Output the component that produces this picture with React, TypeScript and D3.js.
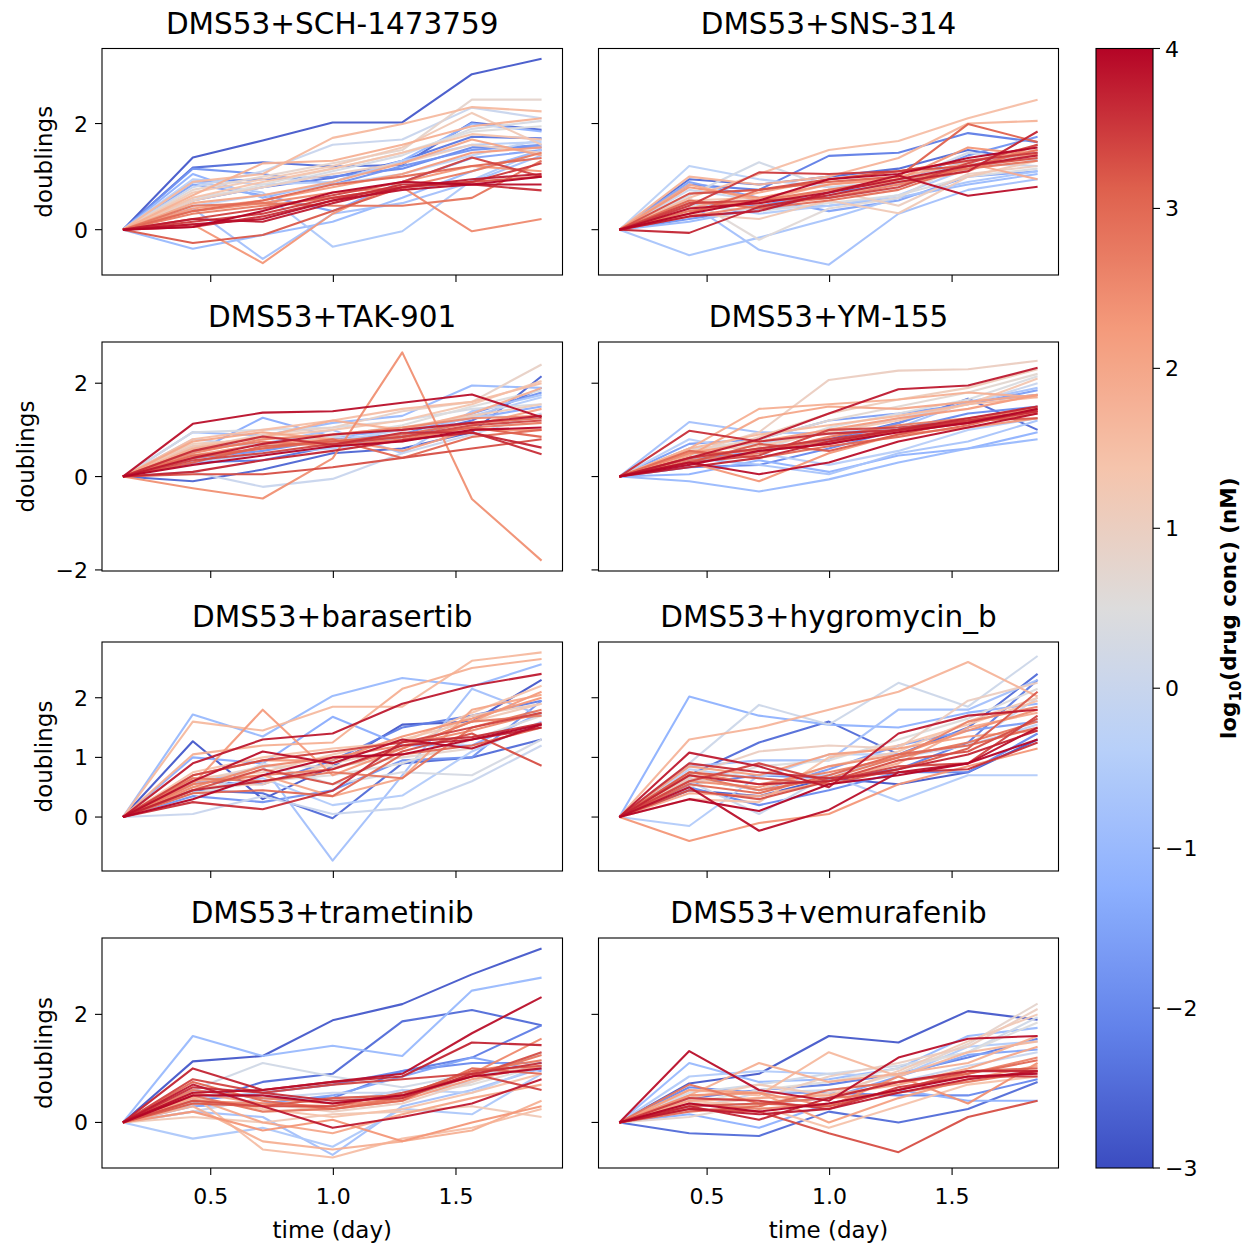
import React from "react";
import * as d3 from "d3";

// time points (day)
const TIMES = [0.142, 0.427, 0.712, 0.997, 1.281, 1.565, 1.849];
const X_TICKS = [0.5, 1.0, 1.5];
const ROW_Y_TICKS = [[0, 2], [-2, 0, 2], [0, 1, 2], [0, 2]];
const CBAR_TICKS = [-3, -2, -1, 0, 1, 2, 3, 4];
const CONC_DOMAIN = [-3, 4];
const COOLWARM = ["#3b4cc0", "#6282ea", "#8db0fe", "#b8d0f9", "#dddcdc", "#f5c4ac", "#f49a7b", "#de604d", "#b40426"];
const TITLES = [
  "DMS53+SCH-1473759", "DMS53+SNS-314",
  "DMS53+TAK-901", "DMS53+YM-155",
  "DMS53+barasertib", "DMS53+hygromycin_b",
  "DMS53+trametinib", "DMS53+vemurafenib",
];

type Series = [number, number[]]; // [log10 conc, doublings per time]

const SCH: Series[] = [
  [-2.8, [0, 1.36, 1.68, 2.02, 2.02, 2.93, 3.22]],
  [-2.5, [0, 1.17, 1.27, 1.19, 1.22, 2.02, 1.88]],
  [-2.3, [0, 0.55, 0.8, 0.98, 1.3, 1.75, 1.72]],
  [-2.0, [0, 0.9, 0.95, 1.0, 1.15, 1.55, 1.55]],
  [-1.8, [0, 1.15, 1.05, 0.85, 1.2, 1.5, 1.6]],
  [-1.5, [0, 0.85, 0.65, 0.35, 0.9, 1.35, 1.5]],
  [-1.2, [0, 1.05, 0.6, 0.9, 1.3, 2.0, 1.85]],
  [-1.0, [0, -0.36, -0.1, 0.15, 0.6, 1.1, 1.5]],
  [-0.8, [0, 0.4, -0.55, 0.3, 0.5, 0.9, 1.4]],
  [-0.6, [0, 0.9, 0.7, -0.32, -0.03, 0.93, 1.5]],
  [-0.4, [0, 0.95, 0.85, 0.9, 1.3, 1.6, 1.65]],
  [-0.2, [0, 0.45, 0.65, 0.85, 1.05, 1.4, 1.7]],
  [0.0, [0, 0.8, 1.1, 1.6, 1.7, 2.3, 2.1]],
  [0.3, [0, 0.6, 0.8, 1.1, 1.4, 1.9, 2.05]],
  [0.5, [0, 0.55, 0.85, 1.15, 1.45, 1.85, 1.95]],
  [0.8, [0, 0.75, 1.0, 1.25, 1.5, 2.45, 2.45]],
  [1.0, [0, 0.55, 0.8, 1.05, 1.25, 1.6, 1.45]],
  [1.2, [0, 0.7, 0.95, 1.2, 1.55, 2.2, 1.6]],
  [1.4, [0, 0.6, 0.9, 1.15, 1.45, 1.8, 1.7]],
  [1.6, [0, 0.9, 1.05, 1.73, 1.99, 2.31, 2.23]],
  [1.8, [0, 0.65, 1.25, 1.3, 1.6, 1.95, 2.1]],
  [2.0, [0, 0.5, 0.65, 0.9, 1.25, 1.7, 1.4]],
  [2.2, [0, 0.4, 0.55, 0.8, 1.05, 1.45, 1.55]],
  [2.3, [0, 0.1, -0.63, 0.3, 0.9, 1.2, 1.1]],
  [2.5, [0, 0.35, 0.5, 0.7, 0.8, -0.03, 0.2]],
  [2.7, [0, 0.3, 0.45, 0.6, 0.8, 1.1, 1.45]],
  [2.8, [0, 0.45, 0.5, 0.45, 0.45, 0.6, 1.3]],
  [3.0, [0, 0.35, 0.55, 0.85, 1.0, 1.2, 1.35]],
  [3.2, [0, -0.25, -0.1, 0.35, 0.8, 0.9, 1.0]],
  [3.4, [0, 0.2, 0.4, 0.65, 0.9, 1.36, 1.0]],
  [3.5, [0, 0.15, 0.3, 0.6, 0.8, 0.9, 1.25]],
  [3.6, [0, 0.05, 0.25, 0.55, 0.85, 0.85, 0.74]],
  [3.8, [0, 0.2, 0.15, 0.5, 0.8, 0.95, 1.05]],
  [3.9, [0, 0.1, 0.2, 0.55, 0.75, 0.85, 0.85]],
  [4.0, [0, 0.05, 0.35, 0.7, 0.9, 0.85, 1.0]],
];

const SNS: Series[] = [
  [-2.5, [0, 0.95, 0.85, 1.0, 1.15, 1.5, 1.3]],
  [-2.2, [0, 0.85, 0.75, 1.39, 1.45, 1.82, 1.65]],
  [-2.0, [0, 0.5, 0.45, 0.7, 0.85, 1.3, 1.45]],
  [-1.8, [0, 0.2, 0.4, 0.65, 0.9, 1.4, 1.75]],
  [-1.5, [0, 0.9, 0.6, 0.35, 0.55, 1.0, 1.1]],
  [-1.0, [0, 0.15, 0.4, 0.45, 0.6, 0.85, 1.05]],
  [-0.8, [0, 0.5, -0.38, -0.66, 0.3, 0.75, 0.95]],
  [-0.7, [0, -0.48, -0.15, 0.2, 0.6, 0.9, 1.1]],
  [-0.5, [0, 0.5, 0.3, 0.45, 0.65, 1.15, 1.6]],
  [-0.3, [0, 1.2, 0.95, 0.8, 0.9, 1.3, 1.4]],
  [0.0, [0, 0.75, 0.55, 0.6, 0.8, 1.25, 1.2]],
  [0.2, [0, 0.65, 1.27, 0.8, 0.9, 1.45, 1.3]],
  [0.4, [0, 0.45, 0.35, 0.5, 0.65, 1.0, 1.15]],
  [0.6, [0, 0.6, -0.19, 0.4, 0.6, 1.3, 1.5]],
  [1.0, [0, 0.35, 0.5, 0.75, 0.45, 1.05, 1.2]],
  [1.2, [0, 0.3, 0.2, 0.55, 0.31, 1.0, 1.3]],
  [1.3, [0, 0.55, 0.6, 0.65, 0.85, 1.2, 1.35]],
  [1.5, [0, 0.6, 1.05, 1.5, 1.67, 2.1, 2.45]],
  [1.7, [0, 1.0, 0.85, 1.0, 1.35, 2.0, 2.05]],
  [1.9, [0, 0.85, 0.55, 0.85, 1.0, 1.25, 0.95]],
  [2.0, [0, 0.4, 0.7, 0.95, 1.1, 1.3, 1.5]],
  [2.2, [0, 0.5, 0.5, 0.75, 0.9, 1.15, 1.45]],
  [2.3, [0, 0.8, 0.6, 0.85, 0.95, 1.55, 1.4]],
  [2.6, [0, 0.25, 0.45, 0.6, 0.85, 1.1, 1.6]],
  [2.8, [0, 0.35, 0.55, 0.75, 0.95, 1.15, 1.3]],
  [2.9, [0, 0.55, 0.4, 0.55, 0.75, 1.2, 1.5]],
  [3.1, [0, 0.3, 0.75, 0.9, 1.0, 1.99, 1.65]],
  [3.3, [0, 0.68, 0.75, 0.95, 1.1, 1.2, 1.35]],
  [3.4, [0, 0.5, 0.55, 0.6, 0.8, 1.25, 1.6]],
  [3.5, [0, 0.45, 1.08, 1.05, 1.1, 1.3, 1.45]],
  [3.7, [0, -0.06, 0.43, 0.65, 0.9, 1.1, 1.85]],
  [3.8, [0, 0.25, 0.35, 0.7, 0.95, 1.2, 1.4]],
  [3.9, [0, 0.4, 0.5, 0.7, 1.02, 0.64, 0.81]],
  [4.0, [0, 0.3, 0.55, 0.95, 1.05, 1.35, 1.55]],
];

const TAK: Series[] = [
  [-2.6, [0, -0.1, 0.15, 0.5, 0.6, 0.95, 2.15]],
  [-2.3, [0, 0.3, 0.35, 0.65, 0.85, 1.2, 1.9]],
  [-1.8, [0, 0.4, 0.55, 0.8, 0.9, 1.35, 1.8]],
  [-1.3, [0, 0.5, 1.26, 0.85, 1.0, 1.25, 1.5]],
  [-1.0, [0, 0.95, 0.88, 1.15, 1.3, 1.95, 1.9]],
  [-0.7, [0, 0.65, 0.7, 1.0, 0.5, 1.4, 1.75]],
  [-0.5, [0, 0.3, 0.5, 0.6, 0.85, 1.3, 1.7]],
  [-0.2, [0, 0.8, 0.65, 0.75, 1.0, 1.3, 1.25]],
  [0.0, [0, 0.1, -0.22, -0.05, 0.5, 0.9, 1.35]],
  [0.3, [0, 0.95, 1.0, 1.05, 1.2, 1.45, 1.55]],
  [0.5, [0, 0.45, 0.7, 0.85, 1.1, 1.5, 1.85]],
  [0.9, [0, 0.6, 0.9, 1.05, 1.4, 1.6, 2.4]],
  [1.1, [0, 0.7, 0.8, 0.9, 1.05, 1.3, 1.55]],
  [1.3, [0, 0.65, 0.85, 1.0, 1.2, 1.55, 2.05]],
  [1.5, [0, 0.8, 1.0, 1.2, 1.45, 1.6, 2.0]],
  [1.8, [0, 0.6, 0.85, 1.2, 1.0, 1.35, 1.9]],
  [2.0, [0, 0.75, 0.95, 0.8, 0.75, 1.1, 1.45]],
  [2.2, [0, 0.45, 0.7, 0.8, 0.55, 1.0, 1.0]],
  [2.4, [0, -0.25, -0.47, 0.39, 2.66, -0.48, -1.8]],
  [2.5, [0, 0.5, 0.8, 0.9, 1.05, 1.25, 1.3]],
  [2.7, [0, 0.55, 0.75, 0.65, 0.8, 1.05, 1.15]],
  [2.9, [0, 0.45, 0.6, 0.75, 0.9, 1.15, 1.25]],
  [3.0, [0, 0.4, 0.6, 0.8, 0.4, 0.85, 1.0]],
  [3.1, [0, 0.3, 0.65, 0.75, 0.85, 1.05, 0.85]],
  [3.3, [0, 0.05, 0.05, 0.2, 0.4, 0.6, 0.8]],
  [3.4, [0, 0.35, 0.5, 0.7, 0.85, 1.1, 1.2]],
  [3.6, [0, 0.55, 0.86, 0.68, 0.94, 0.95, 0.48]],
  [3.7, [0, 0.1, 0.35, 0.55, 0.78, 0.94, 0.62]],
  [3.8, [0, 0.4, 0.7, 0.9, 1.0, 1.15, 1.3]],
  [3.9, [0, 1.13, 1.37, 1.4, 1.58, 1.76, 1.27]],
  [4.0, [0, 0.25, 0.45, 0.65, 0.75, 1.0, 1.05]],
];

const YM: Series[] = [
  [-2.5, [0, 0.35, 0.55, 0.8, 1.15, 1.67, 1.0]],
  [-2.0, [0, 0.2, 0.25, 0.6, 1.0, 1.35, 1.5]],
  [-1.8, [0, 0.3, 0.6, 0.75, 1.15, 1.6, 1.75]],
  [-1.6, [0, 0.7, 0.8, 1.2, 1.35, 1.55, 1.85]],
  [-1.2, [0, 0.05, 0.35, 0.1, 0.45, 0.6, 0.95]],
  [-1.0, [0, -0.1, -0.32, -0.06, 0.3, 0.6, 0.8]],
  [-0.8, [0, 1.17, 0.95, 0.92, 1.05, 1.6, 1.9]],
  [-0.7, [0, 0.4, 0.25, 0.05, 0.5, 0.75, 1.2]],
  [-0.4, [0, 0.8, 0.5, 0.25, 0.55, 1.0, 1.25]],
  [0.0, [0, 0.6, 0.7, 0.95, 1.25, 1.55, 2.0]],
  [0.4, [0, 0.45, 0.55, 1.05, 1.35, 1.65, 2.15]],
  [0.7, [0, 0.55, 0.8, 1.2, 1.5, 1.8, 2.2]],
  [1.0, [0, 0.5, 0.95, 2.07, 2.27, 2.3, 2.48]],
  [1.1, [0, 0.4, 0.85, 1.35, 1.65, 1.9, 2.3]],
  [1.3, [0, 0.55, 0.65, 0.95, 1.2, 1.55, 2.1]],
  [1.6, [0, 0.6, 0.9, 1.1, 1.3, 1.55, 1.7]],
  [1.8, [0, 0.6, 1.45, 1.55, 1.65, 1.8, 1.7]],
  [2.0, [0, 0.45, 1.25, 1.5, 1.45, 1.6, 1.75]],
  [2.2, [0, 0.5, 0.75, 1.0, 1.25, 1.45, 1.75]],
  [2.3, [0, 0.3, -0.1, 0.5, 0.9, 1.05, 1.25]],
  [2.5, [0, 0.5, 0.55, 0.7, 1.0, 1.2, 1.5]],
  [2.7, [0, 0.35, 0.5, 0.85, 1.1, 1.25, 1.45]],
  [2.8, [0, 0.4, 0.6, 0.75, 0.95, 1.15, 1.35]],
  [3.0, [0, 0.55, 0.4, 0.65, 0.85, 1.1, 1.45]],
  [3.2, [0, 0.3, 0.7, 0.55, 0.9, 1.2, 1.25]],
  [3.4, [0, 0.3, 0.45, 1.0, 1.05, 1.2, 1.4]],
  [3.5, [0, 0.4, 0.6, 0.8, 1.0, 1.2, 1.4]],
  [3.6, [0, 0.98, 0.75, 0.92, 1.0, 1.15, 1.4]],
  [3.7, [0, 0.2, 0.4, 0.75, 1.0, 1.25, 1.5]],
  [3.8, [0, 0.4, 0.8, 1.35, 1.87, 1.95, 2.33]],
  [3.9, [0, 0.3, 0.05, 0.3, 0.75, 1.05, 1.35]],
  [4.0, [0, 0.25, 0.55, 0.7, 0.95, 1.15, 1.45]],
];

const BARA: Series[] = [
  [-2.8, [0, 1.27, 0.3, 0.85, 1.55, 1.6, 2.3]],
  [-2.5, [0, 0.45, 0.4, -0.02, 0.9, 1.0, 1.3]],
  [-2.2, [0, 0.6, 0.55, 0.95, 1.5, 1.7, 1.95]],
  [-1.8, [0, 0.35, 0.25, 0.45, 0.95, 1.0, 1.95]],
  [-1.3, [0, 1.0, 0.9, 1.68, 1.2, 1.2, 1.75]],
  [-1.0, [0, 1.72, 1.35, 2.03, 2.33, 2.19, 2.56]],
  [-0.8, [0, 0.55, 0.85, -0.73, 0.7, 2.15, 1.7]],
  [-0.5, [0, 0.45, 0.65, 0.2, 0.36, 1.1, 1.6]],
  [0.0, [0, 0.05, 0.35, 0.05, 0.15, 0.6, 1.2]],
  [0.3, [0, 0.3, 0.9, 0.55, 0.75, 0.7, 1.3]],
  [0.5, [0, 0.4, 0.6, 0.7, 0.9, 1.3, 1.7]],
  [0.8, [0, 0.6, 0.85, 0.85, 1.0, 1.15, 1.55]],
  [1.1, [0, 0.5, 0.55, 0.9, 1.15, 1.7, 1.9]],
  [1.2, [0, 0.65, 0.75, 1.05, 1.3, 1.6, 1.9]],
  [1.4, [0, 0.75, 1.0, 1.15, 1.25, 1.75, 2.2]],
  [1.6, [0, 1.6, 1.45, 1.85, 1.85, 2.62, 2.76]],
  [1.8, [0, 1.05, 1.2, 1.25, 2.15, 2.5, 2.65]],
  [2.0, [0, 0.6, 0.7, 0.35, 0.65, 1.8, 2.05]],
  [2.2, [0, 0.55, 1.8, 0.7, 1.15, 1.6, 2.1]],
  [2.3, [0, 0.7, 0.95, 0.95, 1.35, 1.65, 2.0]],
  [2.5, [0, 0.5, 0.85, 1.0, 1.2, 1.45, 1.75]],
  [2.7, [0, 0.55, 0.7, 0.8, 1.15, 1.6, 1.7]],
  [2.8, [0, 0.65, 0.6, 0.75, 0.65, 1.5, 1.8]],
  [3.0, [0, 0.4, 0.45, 0.35, 1.05, 1.2, 1.5]],
  [3.3, [0, 0.45, 0.8, 0.55, 1.1, 1.4, 0.86]],
  [3.4, [0, 0.7, 0.95, 1.1, 1.25, 1.5, 1.75]],
  [3.6, [0, 0.25, 0.13, 0.44, 1.26, 1.34, 1.57]],
  [3.7, [0, 0.45, 0.6, 0.8, 1.2, 1.3, 1.5]],
  [3.8, [0, 0.9, 1.3, 1.4, 1.9, 2.2, 2.4]],
  [3.9, [0, 0.6, 1.1, 0.9, 1.3, 1.15, 1.55]],
  [4.0, [0, 0.3, 0.7, 1.0, 1.05, 1.3, 1.55]],
];

const HYG: Series[] = [
  [-2.8, [0, 0.45, 0.35, 0.65, 0.55, 0.75, 1.3]],
  [-2.5, [0, 0.7, 1.25, 1.6, 1.05, 1.5, 2.4]],
  [-2.2, [0, 0.55, 0.7, 0.65, 0.8, 1.25, 2.3]],
  [-2.0, [0, 0.5, 0.2, 0.45, 0.75, 0.75, 1.4]],
  [-1.6, [0, 0.65, 0.45, 0.8, 1.2, 1.45, 1.6]],
  [-1.2, [0, 2.02, 1.7, 1.55, 1.5, 1.75, 1.9]],
  [-0.8, [0, 0.85, 0.95, 0.95, 1.8, 1.8, 2.3]],
  [-0.5, [0, -0.15, 0.7, 0.7, 0.27, 0.7, 0.7]],
  [-0.3, [0, 0.8, 0.65, 1.05, 1.05, 1.2, 1.55]],
  [0.0, [0, 0.6, 0.05, 0.7, 1.0, 1.2, 2.0]],
  [0.1, [0, 0.9, 1.88, 1.55, 2.25, 1.85, 2.7]],
  [0.5, [0, 0.5, 0.85, 0.95, 1.3, 1.65, 2.15]],
  [1.0, [0, 0.7, 1.1, 1.2, 1.15, 1.95, 2.25]],
  [1.2, [0, 0.65, 0.45, 0.85, 1.1, 1.6, 2.0]],
  [1.4, [0, 0.3, 0.25, 1.0, 1.2, 1.55, 1.95]],
  [1.7, [0, 1.3, 1.5, 1.8, 2.1, 2.6, 2.02]],
  [1.9, [0, 0.4, 0.35, 0.6, 0.9, 1.5, 1.75]],
  [2.1, [0, 0.85, 0.7, 1.05, 1.15, 1.35, 1.45]],
  [2.3, [0, -0.4, -0.1, 0.05, 0.55, 0.85, 1.15]],
  [2.4, [0, 0.6, 0.5, 0.85, 1.05, 1.45, 1.8]],
  [2.6, [0, 0.75, 0.55, 0.75, 1.0, 1.6, 1.85]],
  [2.8, [0, 0.7, 0.45, 0.65, 1.0, 1.25, 1.6]],
  [3.0, [0, 0.55, 0.4, 0.7, 1.05, 1.2, 1.5]],
  [3.2, [0, 0.75, 0.65, 0.55, 0.8, 1.15, 2.1]],
  [3.3, [0, 0.45, 0.3, 0.6, 0.95, 1.1, 1.65]],
  [3.4, [0, 0.6, 0.9, 0.6, 0.85, 0.9, 1.7]],
  [3.6, [0, 0.9, 0.75, 0.65, 0.75, 0.8, 1.25]],
  [3.7, [0, 0.7, 0.55, 0.6, 0.8, 1.05, 1.45]],
  [3.8, [0, 1.08, 0.85, 0.5, 1.4, 1.7, 1.8]],
  [3.9, [0, 0.5, -0.23, 0.12, 0.75, 0.9, 1.5]],
  [4.0, [0, 0.3, 0.1, 0.55, 0.7, 0.9, 1.3]],
];

const TRAM: Series[] = [
  [-2.8, [0, 1.13, 1.23, 1.89, 2.19, 2.74, 3.22]],
  [-2.5, [0, 0.35, 0.75, 0.9, 1.87, 2.08, 1.8]],
  [-2.2, [0, 0.6, 0.45, 0.45, 0.95, 1.2, 1.8]],
  [-2.0, [0, 0.4, 0.55, 0.7, 0.95, 1.1, 1.1]],
  [-1.5, [0, 0.3, 0.35, 0.5, 0.85, 1.2, 0.95]],
  [-1.0, [0, 1.6, 1.23, 1.42, 1.23, 2.44, 2.68]],
  [-0.8, [0, 0.2, 0.1, -0.6, 0.3, 0.6, 1.0]],
  [-0.6, [0, -0.3, -0.1, -0.45, 0.25, 0.15, 0.9]],
  [-0.3, [0, 0.45, 0.55, 0.35, 0.6, 0.55, 1.05]],
  [0.0, [0, 0.2, 0.45, 0.55, 0.55, 0.75, 1.3]],
  [0.2, [0, 0.6, 1.1, 0.85, 0.65, 0.9, 1.0]],
  [0.5, [0, 0.35, 0.3, 0.45, 0.5, 0.7, 1.05]],
  [1.0, [0, 0.35, 0.35, 0.2, 0.35, 0.75, 1.15]],
  [1.2, [0, 0.1, 0.0, 0.15, 0.2, 0.3, 0.1]],
  [1.4, [0, 0.45, 0.25, 0.1, 0.25, 0.55, 0.9]],
  [1.5, [0, 0.5, -0.5, -0.65, -0.3, -0.1, 0.25]],
  [1.8, [0, 0.3, -0.35, -0.5, -0.35, -0.15, 0.4]],
  [2.0, [0, 0.45, 0.0, -0.2, 0.15, 0.45, 0.7]],
  [2.2, [0, 0.55, 0.35, 0.25, 0.4, 0.8, 1.05]],
  [2.3, [0, 0.2, -0.15, 0.05, -0.35, 0.0, 0.3]],
  [2.5, [0, 0.4, 0.35, 0.3, 0.45, 0.9, 1.55]],
  [2.7, [0, 0.6, 0.45, 0.35, 0.5, 0.95, 1.15]],
  [2.8, [0, 0.5, 0.2, 0.25, 0.45, 0.85, 1.25]],
  [3.0, [0, 0.75, 0.4, 0.25, 0.4, 1.0, 0.9]],
  [3.2, [0, 0.35, 0.3, 0.45, 0.5, 0.95, 1.05]],
  [3.3, [0, 0.4, 0.3, 0.3, 0.55, 0.85, 1.3]],
  [3.4, [0, 0.8, 0.55, 0.7, 0.8, 0.9, 0.6]],
  [3.6, [0, 0.65, 0.55, 0.4, 0.45, 0.9, 1.1]],
  [3.7, [0, 1.0, 0.6, 0.75, 0.85, 1.48, 1.43]],
  [3.8, [0, 0.7, 0.3, -0.1, 0.1, 0.35, 0.8]],
  [3.9, [0, 0.55, 0.6, 0.75, 0.9, 1.65, 2.32]],
  [4.0, [0, 0.5, 0.5, 0.35, 0.5, 0.85, 1.0]],
];

const VEM: Series[] = [
  [-2.8, [0, 0.72, 0.9, 1.6, 1.48, 2.06, 1.9]],
  [-2.5, [0, -0.2, -0.25, 0.2, 0.0, 0.25, 0.75]],
  [-2.2, [0, 0.45, 0.6, 0.7, 0.9, 1.2, 1.55]],
  [-2.0, [0, 0.65, 0.55, 0.55, 0.5, 0.5, 0.8]],
  [-1.5, [0, 0.3, 0.35, 0.45, 0.85, 1.25, 1.35]],
  [-1.2, [0, 0.15, -0.1, 0.35, 0.6, 0.4, 0.4]],
  [-1.0, [0, 1.1, 0.75, 0.8, 1.0, 1.6, 1.75]],
  [-0.5, [0, 0.85, 0.95, 0.9, 0.85, 1.4, 1.5]],
  [0.0, [0, 0.25, 0.55, 0.6, 0.75, 1.05, 1.3]],
  [0.2, [0, 0.55, 0.7, 0.9, 1.05, 1.3, 1.95]],
  [0.5, [0, 0.35, 0.6, 0.75, 1.0, 1.3, 1.85]],
  [0.8, [0, 0.1, 0.35, 0.55, 0.9, 1.45, 2.2]],
  [1.0, [0, 0.3, 0.45, 0.85, 1.1, 1.4, 2.1]],
  [1.2, [0, 0.45, 0.7, 0.5, 0.95, 1.5, 2.0]],
  [1.4, [0, 0.4, 0.3, -0.1, 0.3, 0.7, 0.85]],
  [1.6, [0, 0.6, 0.5, 1.3, 0.85, 1.3, 1.5]],
  [1.8, [0, 0.5, 1.1, 0.75, 0.9, 1.1, 1.6]],
  [2.0, [0, 0.4, 0.45, 0.5, 0.7, 1.0, 1.4]],
  [2.1, [0, 0.6, 0.55, 0.0, 0.45, 0.8, 1.05]],
  [2.4, [0, 0.5, 0.55, 0.3, 0.85, 0.35, 1.1]],
  [2.6, [0, 0.35, 0.25, 0.35, 0.6, 0.9, 1.2]],
  [2.8, [0, 0.7, 0.35, 0.45, 0.55, 0.75, 0.95]],
  [3.0, [0, 0.2, 0.3, 0.6, 0.75, 0.9, 1.15]],
  [3.2, [0, 0.3, 0.35, 0.3, 0.6, 0.95, 1.0]],
  [3.3, [0, 0.25, 0.2, -0.2, -0.55, 0.1, 0.4]],
  [3.5, [0, 0.45, 0.4, 0.25, 0.65, 0.85, 0.85]],
  [3.7, [0, 0.3, 0.05, 0.45, 0.75, 0.95, 0.95]],
  [3.8, [0, 0.25, 0.15, 0.25, 0.55, 0.8, 0.95]],
  [3.9, [0, 1.32, 0.6, 0.4, 1.2, 1.55, 1.6]],
  [4.0, [0, 0.35, 0.2, 0.35, 0.6, 0.85, 0.9]],
];

const PANEL_DATA: Series[][] = [SCH, SNS, TAK, YM, BARA, HYG, TRAM, VEM];

// layout
const W = 1248;
const H = 1249;
const COLS = [[102, 562.5], [598.5, 1058.5]];
const ROWS = [[48.5, 275], [342, 571], [642, 871], [938, 1168]];
const CBAR = { x0: 1096, x1: 1153, y0: 48.5, y1: 1168 };
const FONT = "'DejaVu Sans', sans-serif";
const TICK_FS = 22;
const LABEL_FS = 23;
const TITLE_FS = 29.5;

const CHAR_W: Record<string, number> = { "0": 0.636, "1": 0.636, "2": 0.636, "3": 0.636, "4": 0.636, "5": 0.636, ".": 0.318, "−": 0.838 };
const textW = (s: string, fs: number) => s.split("").reduce((a, c) => a + (CHAR_W[c] ?? 0.6), 0) * fs;
const fmtY = (v: number) => (v < 0 ? "−" + Math.abs(v) : String(v));

const colorOf = (() => {
  const t = d3.scaleLinear().domain(CONC_DOMAIN).range([0, 1]).clamp(true);
  const interp = d3.piecewise(d3.interpolateRgb, COOLWARM);
  return (c: number) => interp(t(c));
})();

const xDomain = (() => {
  const [a, b] = d3.extent(TIMES) as [number, number];
  const p = (b - a) * 0.05;
  return [a - p, b + p];
})();

const rowDomain = (r: number) => {
  const all = [...PANEL_DATA[r * 2], ...PANEL_DATA[r * 2 + 1]].flatMap((s) => s[1]);
  const [a, b] = d3.extent(all) as [number, number];
  const p = (b - a) * 0.05;
  return [a - p, b + p];
};

export default function App() {
  const gradStops = d3.range(0, 33).map((i) => i / 32);
  const cbarY = d3.scaleLinear().domain(CONC_DOMAIN).range([CBAR.y1, CBAR.y0]);
  return (
    <svg width={W} height={H} viewBox={`0 0 ${W} ${H}`} style={{ position: "absolute", left: 0, top: 0, background: "#fff" }} fontFamily={FONT}>
      <defs>
        <linearGradient id="cw" x1="0" y1="1" x2="0" y2="0">
          {gradStops.map((t) => (
            <stop key={t} offset={t} stopColor={colorOf(CONC_DOMAIN[0] + t * (CONC_DOMAIN[1] - CONC_DOMAIN[0]))} />
          ))}
        </linearGradient>
      </defs>
      <rect x={0} y={0} width={W} height={H} fill="#fff" />
      {PANEL_DATA.map((series, i) => {
        const r = Math.floor(i / 2);
        const c = i % 2;
        const [x0, x1] = COLS[c];
        const [y0, y1] = ROWS[r];
        const x = d3.scaleLinear().domain(xDomain).range([x0, x1]);
        const y = d3.scaleLinear().domain(rowDomain(r)).range([y1, y0]);
        const line = d3.line<number>().x((_, k) => x(TIMES[k])).y((v) => y(v));
        const sorted = [...series].sort((a, b) => a[0] - b[0]);
        const yTicks = ROW_Y_TICKS[r];
        const maxTickW = Math.max(...yTicks.map((t) => textW(fmtY(t), TICK_FS)));
        const isBottom = r === ROWS.length - 1;
        const cx = (x0 + x1) / 2;
        const cy = (y0 + y1) / 2;
        return (
          <g key={i}>
            <clipPath id={`clip${i}`}>
              <rect x={x0} y={y0} width={x1 - x0} height={y1 - y0} />
            </clipPath>
            <g clipPath={`url(#clip${i})`}>
              {sorted.map((s, k) => (
                <path key={k} d={line(s[1]) || ""} fill="none" stroke={colorOf(s[0])} strokeWidth={2.1} strokeLinejoin="round" strokeOpacity={0.95} />
              ))}
            </g>
            <rect x={x0} y={y0} width={x1 - x0} height={y1 - y0} fill="none" stroke="#000" strokeWidth={1.1} />
            {X_TICKS.map((t) => (
              <line key={t} x1={x(t)} x2={x(t)} y1={y1} y2={y1 + 7} stroke="#000" strokeWidth={1.1} />
            ))}
            {yTicks.map((t) => (
              <line key={t} x1={x0 - 7} x2={x0} y1={y(t)} y2={y(t)} stroke="#000" strokeWidth={1.1} />
            ))}
            {c === 0 &&
              yTicks.map((t) => (
                <text key={t} x={x0 - 14} y={y(t) + 8} fontSize={TICK_FS} textAnchor="end" fill="#000">
                  {fmtY(t)}
                </text>
              ))}
            {c === 0 && (
              <text transform={`translate(${x0 - 14 - maxTickW - 22},${cy}) rotate(-90)`} fontSize={LABEL_FS} textAnchor="middle" fill="#000">
                doublings
              </text>
            )}
            {isBottom &&
              X_TICKS.map((t) => (
                <text key={t} x={x(t)} y={y1 + 36} fontSize={TICK_FS} textAnchor="middle" fill="#000">
                  {t.toFixed(1)}
                </text>
              ))}
            {isBottom && (
              <text x={cx} y={y1 + 70} fontSize={LABEL_FS} textAnchor="middle" fill="#000">
                time (day)
              </text>
            )}
            <text x={cx} y={y0 - 15} fontSize={TITLE_FS} textAnchor="middle" fill="#000">
              {TITLES[i]}
            </text>
          </g>
        );
      })}
      <rect x={CBAR.x0} y={CBAR.y0} width={CBAR.x1 - CBAR.x0} height={CBAR.y1 - CBAR.y0} fill="url(#cw)" stroke="#000" strokeWidth={1.1} />
      {CBAR_TICKS.map((t) => (
        <g key={t}>
          <line x1={CBAR.x1} x2={CBAR.x1 + 7} y1={cbarY(t)} y2={cbarY(t)} stroke="#000" strokeWidth={1.1} />
          <text x={CBAR.x1 + 12} y={cbarY(t) + 8} fontSize={TICK_FS} fill="#000">
            {fmtY(t)}
          </text>
        </g>
      ))}
      <text transform={`translate(1236,${(CBAR.y0 + CBAR.y1) / 2}) rotate(-90)`} fontSize={21.5} fontWeight="bold" textAnchor="middle" fill="#000">
        log
        <tspan fontSize={15} dy={5}>10</tspan>
        <tspan dy={-5}>(drug conc) (nM)</tspan>
      </text>
    </svg>
  );
}
